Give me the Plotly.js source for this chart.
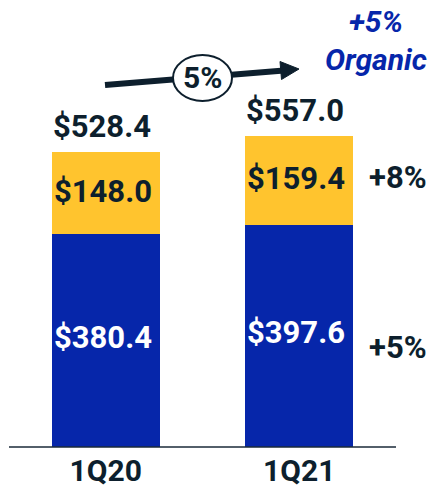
<!DOCTYPE html>
<html>
<head>
<meta charset="utf-8">
<script src="https://cdn.plot.ly/plotly-3.0.1.min.js"></script>
<style>html,body{margin:0;padding:0;background:#fff;}#chart{width:435px;height:488px;}</style>
</head>
<body>
<div id="chart"></div>
<script>
var categories = ["1Q20", "1Q21"];
var baseValues = [380.4, 397.6];
var topValues = [148.0, 159.4];
var totals = [528.4, 557.0];
var baseLabels = ["$380.4", "$397.6"];
var topLabels = ["$148.0", "$159.4"];
var totalLabels = ["$528.4", "$557.0"];
var growthTop = "+8%";
var growthBase = "+5%";
var totalGrowth = "5%";
var organicLines = ["+5%", "Organic"];

var DARK = "#0d1f2d", BLUE = "#0626aa", YELLOW = "#ffc42e";
var F = "Roboto, 'DejaVu Sans', sans-serif";

var traces = [
  {type: "bar", x: categories, y: baseValues, marker: {color: BLUE},
   width: 0.56, textposition: "none", hoverinfo: "none"},
  {type: "bar", x: categories, y: topValues, marker: {color: YELLOW},
   width: 0.56, textposition: "none", hoverinfo: "none"}
];

function px(x){ return (x - 9) / 387; }
function py(y){ return (447 - y) / 447; }

var annotations = [];
for (var i = 0; i < categories.length; i++) {
  annotations.push({x: categories[i], y: totals[i], xref: "x", yref: "y", text: totalLabels[i],
    showarrow: false, xanchor: "center", yanchor: "bottom", yshift: 5, xshift: -4,
    font: {family: F, size: 31, color: DARK, weight: 700}});
  annotations.push({x: categories[i], y: baseValues[i] + topValues[i] / 2, xref: "x", yref: "y", text: topLabels[i],
    showarrow: false, xanchor: "center", yanchor: "middle", xshift: -3, yshift: 2,
    font: {family: F, size: 31, color: DARK, weight: 700}});
  annotations.push({x: categories[i], y: baseValues[i] / 2, xref: "x", yref: "y", text: baseLabels[i],
    showarrow: false, xanchor: "center", yanchor: "middle", xshift: -3, yshift: 3,
    font: {family: F, size: 31, color: "#ffffff", weight: 700}});
}
annotations.push({x: 1, y: baseValues[1] + topValues[1] / 2, xref: "x", yref: "y", xshift: 99, yshift: 3,
  xanchor: "center", yanchor: "middle",
  text: growthTop, showarrow: false, font: {family: F, size: 31, color: DARK, weight: 700}});
annotations.push({x: 1, y: baseValues[1] / 2, xref: "x", yref: "y", xshift: 99, yshift: -12,
  xanchor: "center", yanchor: "middle",
  text: growthBase, showarrow: false, font: {family: F, size: 31, color: DARK, weight: 700}});
annotations.push({x: px(202), y: py(77), xref: "paper", yref: "paper", text: totalGrowth, showarrow: false,
  xanchor: "center", yanchor: "middle",
  font: {family: F, size: 30, color: DARK, weight: 700}});
annotations.push({x: px(376), y: py(22), xref: "paper", yref: "paper", text: "<i>" + organicLines[0] + "</i>",
  xanchor: "center", yanchor: "middle",
  showarrow: false, font: {family: F, size: 30, color: BLUE, weight: 700}});
annotations.push({x: px(376), y: py(59), xref: "paper", yref: "paper", text: "<i>" + organicLines[1] + "</i>",
  xanchor: "center", yanchor: "middle",
  showarrow: false, font: {family: F, size: 30, color: BLUE, weight: 700}});

var shapes = [
  {type: "line", xref: "paper", yref: "paper", x0: px(105), y0: py(85), x1: px(284), y1: py(70.5),
   line: {color: DARK, width: 6}},
  {type: "circle", xref: "paper", yref: "paper", x0: px(173), x1: px(232), y0: py(55), y1: py(101),
   fillcolor: "#ffffff", line: {color: DARK, width: 2}},
  {type: "path", xref: "paper", yref: "paper",
   path: "M" + px(299) + "," + py(69) + " L" + px(281.5) + "," + py(79.5) + " L" + px(280) + "," + py(61.5) + " Z",
   fillcolor: DARK, line: {color: DARK, width: 1}},
  {type: "line", xref: "paper", yref: "paper", x0: 0, x1: 1, y0: 0, y1: 0, line: {color: "#1a2a38", width: 1.5}}
];

var layout = {
  width: 435, height: 488,
  margin: {l: 9, r: 39, t: 0, b: 41, pad: 0},
  paper_bgcolor: "#ffffff", plot_bgcolor: "#ffffff",
  barmode: "stack", showlegend: false,
  xaxis: {range: [-0.5, 1.5], showgrid: false, zeroline: false, showline: false, ticks: "",
    ticklabelstandoff: 3,
    tickfont: {family: F, size: 30, color: DARK, weight: 700}, fixedrange: true},
  yaxis: {range: [0, 800], visible: false, fixedrange: true},
  annotations: annotations,
  shapes: shapes
};

Plotly.newPlot("chart", traces, layout, {displayModeBar: false, staticPlot: true});
</script>
</body>
</html>
